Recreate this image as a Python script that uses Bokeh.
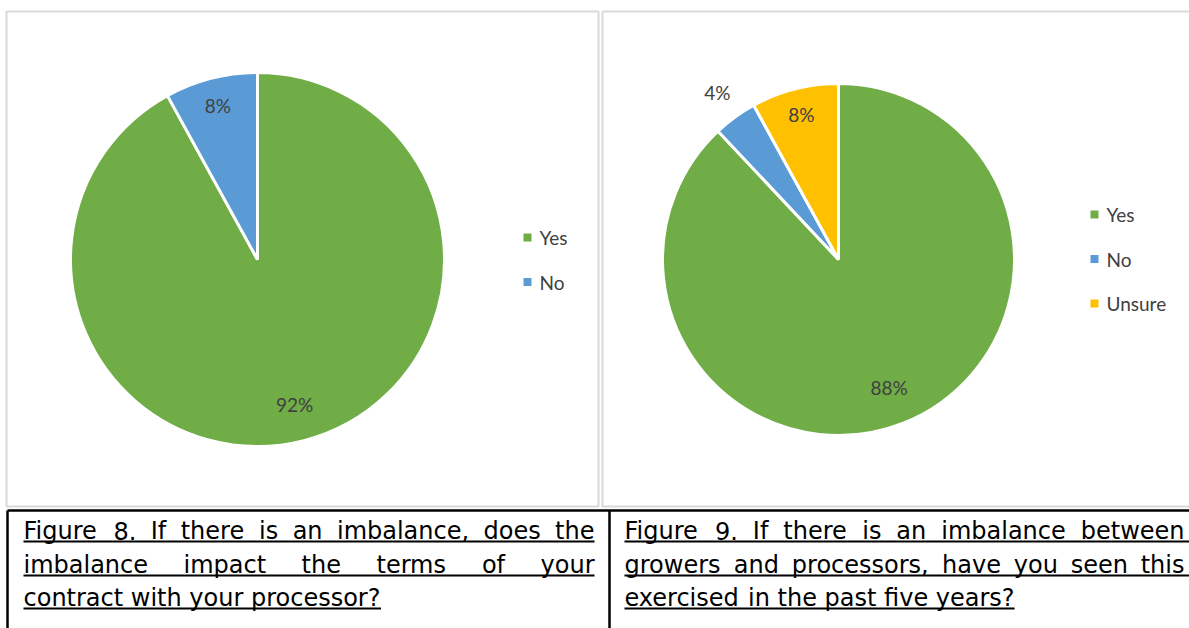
import math
from bokeh.plotting import figure
from bokeh.models import Range1d
from bokeh.core.properties import value
from bokeh.embed import file_html
from bokeh.resources import INLINE

# ---------------- data ----------------
fig8_categories = ["Yes", "No"]
fig8_values = [92, 8]
fig9_categories = ["Yes", "No", "Unsure"]
fig9_values = [88, 4, 8]
slice_colors = {"Yes": "#70AD47", "No": "#5B9BD5", "Unsure": "#FFC000"}

caption8_lines = [
    "Figure 8. If there is an imbalance, does the",
    "imbalance impact the terms of your",
    "contract with your processor?",
]
caption9_lines = [
    "Figure 9. If there is an imbalance between",
    "growers and processors, have you seen this",
    "exercised in the past five years?",
]

# ---------------- layout ----------------
W, H = 1189, 628


def Y(py):
    return H - py


p = figure(width=W, height=H, x_range=Range1d(0, W), y_range=Range1d(0, H),
           output_backend="svg", toolbar_location=None, min_border=0,
           x_axis_location=None, y_axis_location=None)
p.grid.visible = False
p.outline_line_color = None
p.background_fill_color = "white"
p.border_fill_color = "white"

# chart panels
p.quad(left=[6, 602], right=[598, 1200], top=[Y(11), Y(11)], bottom=[Y(506), Y(506)],
       fill_color="white", line_color="#D9D9D9", line_width=2)

LABEL_FONT = value("Lato")
TEXT_COL = "#404040"


def draw_pie(cx, cy, r, cats, vals, label_fracs, legend_x, legend_y0, legend_dy):
    total = float(sum(vals))
    cum = 0.0
    starts, ends, cols, lx, ly, lt = [], [], [], [], [], []
    for c, v, f in zip(cats, vals, label_fracs):
        a0 = math.pi / 2 - cum / total * 2 * math.pi
        a1 = math.pi / 2 - (cum + v) / total * 2 * math.pi
        starts.append(a0)
        ends.append(a1)
        cols.append(slice_colors[c])
        mid = (a0 + a1) / 2
        lx.append(cx + f * r * math.cos(mid))
        ly.append(cy + f * r * math.sin(mid))
        lt.append(f"{round(v / total * 100)}%")
        cum += v
    p.wedge(x=cx, y=cy, radius=r, start_angle=starts, end_angle=ends,
            direction="clock", fill_color=cols, line_color="white", line_width=3)
    p.text(x=lx, y=ly, text=lt, text_align="center", text_baseline="middle",
           text_font=LABEL_FONT, text_font_size="19px", text_color=TEXT_COL)
    # legend
    ys = [legend_y0 - i * legend_dy for i in range(len(cats))]
    p.scatter(x=[legend_x] * len(cats), y=ys, marker="square", size=8,
              fill_color=cols, line_color=None)
    p.text(x=[legend_x + 12] * len(cats), y=ys, text=list(cats), text_align="left",
           text_baseline="middle", text_font=LABEL_FONT, text_font_size="19px",
           text_color=TEXT_COL)


draw_pie(257, Y(259), 187, fig8_categories, fig8_values, [0.8, 0.85],
         527, Y(237), 44.5)
draw_pie(838, Y(259), 176, fig9_categories, fig9_values, [0.78, 1.17, 0.85],
         1094, Y(214), 44.5)

# caption table borders
p.segment(x0=[7, 7, 609], y0=[Y(510), Y(510), Y(510)], x1=[1200, 7, 609],
          y1=[Y(510), -5, -5], line_color="black", line_width=2.5)

# ---------------- captions (justified word by word) ----------------
CAP_FONT = value("DejaVu Sans")
CAP_PX = 24.0
# approximate DejaVu Sans advance widths (units per 2048 em)
ADV = {" ": 651, ",": 651, ".": 651, "?": 1087, "8": 1303, "9": 1303, "F": 1176,
       "I": 604, "a": 1255, "b": 1300, "c": 1126, "d": 1300, "e": 1260, "f": 721,
       "g": 1300, "h": 1298, "i": 569, "l": 569, "m": 1995, "n": 1298, "o": 1253,
       "p": 1300, "r": 842, "s": 1067, "t": 803, "u": 1298, "v": 1212, "w": 1675,
       "x": 1212, "y": 1212}


def text_w(s):
    return sum(ADV.get(ch, 1200) for ch in s) / 2048.0 * CAP_PX


baselines = [530, 564, 597]
underlines = [541, 575, 608]


def caption(lines, x_left, x_right, line_end):
    xs, ys, ts = [], [], []
    ux0, ux1, uy = [], [], []
    for i, line in enumerate(lines):
        words = line.split()
        widths = [text_w(w) for w in words]
        if i < len(lines) - 1:
            gap = (x_right - x_left - sum(widths)) / (len(words) - 1)
            end = line_end
        else:
            gap = text_w(" ")
            end = x_left + sum(widths) + gap * (len(words) - 1)
        x = x_left
        for w, wd in zip(words, widths):
            xs.append(x)
            ys.append(Y(baselines[i]))
            ts.append(w)
            x += wd + gap
        ux0.append(x_left)
        ux1.append(end)
        uy.append(Y(underlines[i]))
    p.text(x=xs, y=ys, text=ts, text_align="left", text_baseline="alphabetic",
           text_font=CAP_FONT, text_font_size=f"{CAP_PX}px", text_color="black")
    p.segment(x0=ux0, y0=uy, x1=ux1, y1=uy, line_color="black", line_width=2)


caption(caption8_lines, 23, 594, 594)
caption(caption9_lines, 624, 1184, 1200)

open("out.html", "w").write(file_html(p, INLINE))
